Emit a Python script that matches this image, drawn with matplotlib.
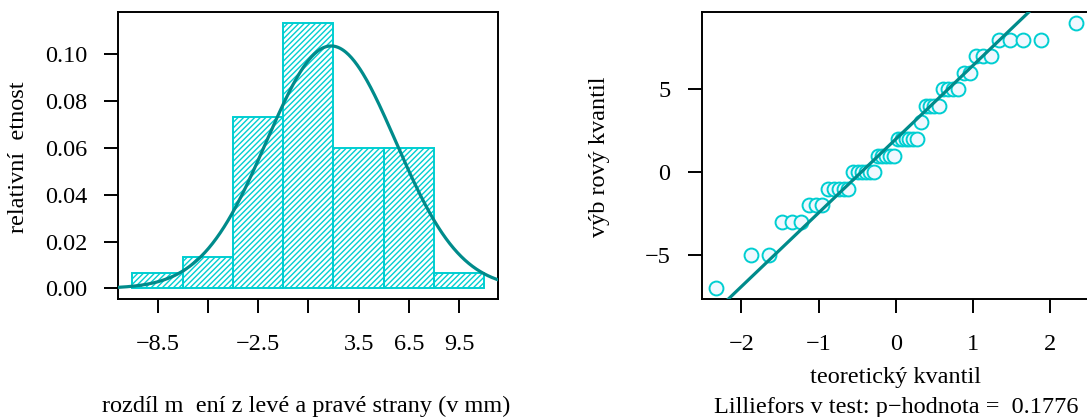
import numpy as np
import matplotlib
matplotlib.use("Agg")
import matplotlib.pyplot as plt
from statistics import NormalDist

# Differences between left and right side measurements (mm): value -> count
values = [-7, -5, -3, -2, -1, 0, 1, 2, 3, 4, 5, 6, 7, 8, 9]
counts = [1, 2, 3, 3, 5, 6, 5, 6, 1, 4, 4, 2, 3, 4, 1]
bin_edges = [-10, -7, -4, -1, 2, 5, 8, 11]
hist_tick_labels = ["\u22128.5", "", "\u22122.5", "", "3.5", "6.5", "9.5"]
qq_xticks = [-2, -1, 0, 1, 2]
qq_yticks = [-5, 0, 5]
p_value = 0.1776

plt.rcParams["font.family"] = ["Liberation Serif", "DejaVu Serif"]
plt.rcParams["font.size"] = 17.5
plt.rcParams["hatch.linewidth"] = 1.0

BAR_COL = "#00CED1"
LINE_COL = "#008B8B"
PT_FACE = "#F0F8FF"

W, H = 1087, 417
fig = plt.figure(figsize=(W / 100, H / 100), dpi=100)

def px_axes(x0, y0, x1, y1):
    return fig.add_axes([x0 / W, 1 - y1 / H, (x1 - x0) / W, (y1 - y0) / H])

sample = np.repeat(values, counts).astype(float)
n = sample.size
edges = np.array(bin_edges, dtype=float)

# right-closed bins (a, b]
idx = np.searchsorted(edges, sample, side="left") - 1
bin_counts = np.bincount(idx, minlength=len(edges) - 1)
widths = np.diff(edges)
dens = bin_counts / (n * widths)
mids = edges[:-1] + widths / 2

def style_axes(ax):
    for s in ax.spines.values():
        s.set_linewidth(1.4)
        s.set_color("black")
    ax.tick_params(direction="out", length=10, width=1.4, top=False, right=False)
    ax.tick_params(axis="y", pad=12.5)
    ax.tick_params(axis="x", pad=15.5)

# ---- histogram with normal density ----
ax1 = px_axes(118.3, 12.3, 498.3, 299)
ax1.bar(mids, dens, width=widths, align="center", facecolor="none",
        edgecolor=BAR_COL, hatch="//////", linewidth=1.4, zorder=2)
span = edges[-1] - edges[0]
xlim1 = (edges[0] - 0.04 * span, edges[-1] + 0.04 * span)
ylim1 = (-0.04 * dens.max(), dens.max() * 1.04)
mu, sd = sample.mean(), sample.std(ddof=1)
xs = np.linspace(xlim1[0], xlim1[1], 400)
ax1.plot(xs, np.exp(-0.5 * ((xs - mu) / sd) ** 2) / (sd * np.sqrt(2 * np.pi)),
         color=LINE_COL, lw=2.3, zorder=3)
ax1.set_xlim(xlim1)
ax1.set_ylim(ylim1)
ax1.set_xticks(mids)
ax1.set_xticklabels(hist_tick_labels)
ax1.set_yticks([0, 0.02, 0.04, 0.06, 0.08, 0.10])
ax1.set_yticklabels(["0.00", "0.02", "0.04", "0.06", "0.08", "0.10"])
style_axes(ax1)

fig.text(19 / W, 1 - 157 / H, "relativní  etnost", rotation=90,
         ha="center", va="center")
fig.text(306 / W, 1 - 412 / H, "rozdíl m  ení z levé a pravé strany (v mm)",
         ha="center", va="baseline")

# ---- normal Q-Q plot ----
ax2 = px_axes(701.7, 12.3, 1090, 299)
srt = np.sort(sample)
probs = (np.arange(1, n + 1) - 0.5) / n
nd = NormalDist()
theo = np.array([nd.inv_cdf(p) for p in probs])
ax2.plot(theo, srt, "o", ms=10, mfc=PT_FACE, mec=BAR_COL, mew=1.4,
         zorder=2, clip_on=False)
q_y = np.quantile(sample, [0.25, 0.75])
q_x = np.array([nd.inv_cdf(0.25), nd.inv_cdf(0.75)])
slope = (q_y[1] - q_y[0]) / (q_x[1] - q_x[0])
ax2.axline((q_x[0], q_y[0]), slope=slope, color=LINE_COL, lw=2.3, zorder=3)
tr = theo.max() - theo.min()
yr = srt.max() - srt.min()
ax2.set_xlim(theo.min() - 0.04 * tr, theo.max() + 0.04 * tr)
ax2.set_ylim(srt.min() - 0.04 * yr, srt.max() + 0.04 * yr)
ax2.set_xticks(qq_xticks)
ax2.set_yticks(qq_yticks)
style_axes(ax2)

fig.text(600 / W, 1 - 157 / H, "výb rový kvantil", rotation=90,
         ha="center", va="center")
fig.text(896 / W, 1 - 383 / H, "teoretický kvantil", ha="center", va="baseline")
fig.text(896 / W, 1 - 413 / H,
         f"Lilliefors v test: p\u2212hodnota =  {p_value:.4f}",
         ha="center", va="baseline")

fig.savefig("out.png", dpi=100)
